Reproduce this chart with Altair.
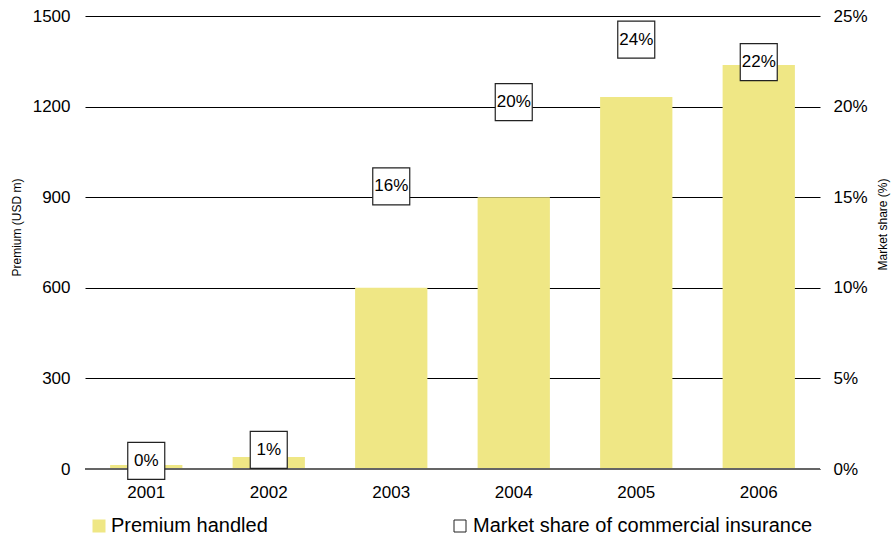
import altair as alt
import pandas as pd

years = ["2001", "2002", "2003", "2004", "2005", "2006"]
premium = [13, 40, 600, 900, 1232, 1338]
share = [0.0045, 0.0105, 0.156, 0.2025, 0.237, 0.2245]
share_labels = ["0%", "1%", "16%", "20%", "24%", "22%"]
left_ticks = [0, 300, 600, 900, 1200, 1500]
right_ticks = [0, 0.05, 0.10, 0.15, 0.20, 0.25]
bar_series = "Premium handled"
box_series = "Market share of commercial insurance"

df = pd.DataFrame({
    "year": years,
    "premium": premium,
    "share": share,
    "label": share_labels,
    "bars": [bar_series] * len(years),
    "boxes": [box_series] * len(years),
})

FONT = "Liberation Sans"
YELLOW = "#efe785"

x_enc = alt.X(
    "year:N",
    scale=alt.Scale(paddingInner=0.41, paddingOuter=0.205),
    axis=alt.Axis(title=None, labelAngle=0, ticks=False, domain=False,
                  labelPadding=15, labelFontSize=17, labelFont=FONT,
                  labelColor="black", grid=False),
)

bars = alt.Chart(df).mark_bar().encode(
    x=x_enc,
    y=alt.Y("premium:Q",
            scale=alt.Scale(domain=[0, 1500], nice=False),
            axis=alt.Axis(values=left_ticks, format="d", grid=True,
                          gridColor="black", gridWidth=1, ticks=False,
                          domain=False, labelPadding=15, labelFontSize=17,
                          labelFont=FONT, labelColor="black",
                          title="Premium (USD m)", titleFontSize=12,
                          titleFont=FONT, titleFontWeight="normal",
                          titleColor="black", titleAngle=270,
                          titleX=-65, titleY=211, titleBaseline="alphabetic",
                          titleAlign="center")),
    color=alt.Color("bars:N",
                    scale=alt.Scale(domain=[bar_series], range=[YELLOW]),
                    legend=alt.Legend(title=None, orient="none", legendX=4,
                                      legendY=500, symbolType="square",
                                      symbolSize=169, symbolStrokeWidth=0,
                                      labelFontSize=20, labelFont=FONT,
                                      labelColor="black", labelOffset=2,
                                      labelLimit=600, padding=0)),
)

zero = alt.Chart(df).mark_rule(color="#666666", strokeWidth=1.5).encode(
    y=alt.datum(0)
)

left = alt.layer(bars, zero)

y_right = alt.Y("share:Q",
                scale=alt.Scale(domain=[0, 0.25], nice=False),
                axis=alt.Axis(orient="right", values=right_ticks, format=".0%",
                              grid=False, ticks=False, domain=False,
                              labelPadding=13, labelFontSize=17, labelFont=FONT,
                              labelColor="black",
                              title="Market share (%)", titleFontSize=12,
                              titleFont=FONT, titleFontWeight="normal",
                              titleColor="black", titleAngle=270,
                              titleX=66, titleY=208, titleBaseline="alphabetic",
                              titleAlign="center"))

boxes = alt.Chart(df).mark_square(
    size=1369, filled=True, fill="white", strokeWidth=1.2, opacity=1
).encode(
    x=x_enc,
    y=y_right,
    stroke=alt.Stroke("boxes:N",
                      scale=alt.Scale(domain=[box_series], range=["#222222"]),
                      legend=alt.Legend(title=None, orient="none", legendX=365,
                                        legendY=500, symbolType="square",
                                        symbolSize=144, symbolFillColor="white",
                                        symbolStrokeWidth=1,
                                        labelFontSize=20, labelFont=FONT,
                                        labelColor="black", labelOffset=3,
                                        labelLimit=600, padding=0)),
)

texts = alt.Chart(df).mark_text(fontSize=17, font=FONT, color="black").encode(
    x=x_enc,
    y=y_right,
    text="label:N",
)

right = alt.layer(boxes, texts)

chart = alt.layer(left, right).resolve_scale(
    y="independent", color="independent", stroke="independent"
).properties(
    width=735, height=453,
    autosize=alt.AutoSizeParams(type="none"),
    padding={"left": 85, "top": 16, "right": 71, "bottom": 70},
).configure_view(stroke=None)

chart.save("out.html", embed_options={"renderer": "svg", "actions": False})
